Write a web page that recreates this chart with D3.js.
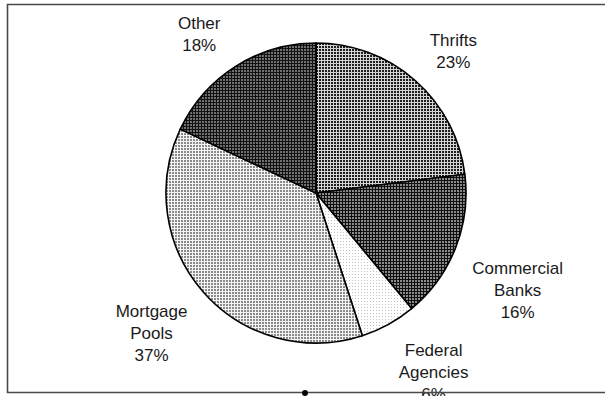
<!DOCTYPE html>
<html>
<head>
<meta charset="utf-8">
<script src="https://cdn.jsdelivr.net/npm/d3@7"></script>
<style>
  body { margin: 0; background: #fff; }
  svg { display: block; }
</style>
</head>
<body>
<script>
var width = 605;
var height = 396;

// holders of mortgage debt, share in %
var categories = ["Thrifts", "Commercial Banks", "Federal Agencies", "Mortgage Pools", "Other"];
var values = [23, 16, 6, 37, 18];
var labelLines = [["Thrifts"], ["Commercial", "Banks"], ["Federal", "Agencies"], ["Mortgage", "Pools"], ["Other"]];

// dither-like fills: background, dot colour, dot size
var fills = [
  { bg: "#d4d4d4", dot: "#1e1e1e", s: 2 },
  { bg: "#101010", dot: "#8a8a8a", s: 2 },
  { bg: "#ffffff", dot: "#c0c0c0", s: 1 },
  { bg: "#f4f4f4", dot: "#8a8a8a", s: 2 },
  { bg: "#121212", dot: "#707070", s: 2 }
];

// small hand nudges of each label, as Excel places them
var labelNudge = [[4, 8], [-6, 19], [15, -6], [-4, 0], [-10, 10]];

var cx = 316, cy = 193, radius = 150;
var labelRadius = 178;
var lineH = 22;

var svg = d3.select("body")
  .append("svg")
  .attr("width", width)
  .attr("height", height);

svg.append("rect")
  .attr("width", width)
  .attr("height", height)
  .attr("fill", "#fff");

var defs = svg.append("defs");
fills.forEach(function(f, i) {
  var p = defs.append("pattern")
    .attr("id", "fill" + i)
    .attr("patternUnits", "userSpaceOnUse")
    .attr("width", 3)
    .attr("height", 3);
  p.append("rect").attr("width", 3).attr("height", 3).attr("fill", f.bg);
  p.append("rect").attr("width", f.s).attr("height", f.s).attr("fill", f.dot)
    .attr("shape-rendering", "crispEdges");
});

var pie = d3.pie().sort(null).value(function(d) { return d; });
var arc = d3.arc().innerRadius(0).outerRadius(radius);
var arcs = pie(values);

var g = svg.append("g").attr("transform", "translate(" + cx + "," + cy + ")");

g.selectAll("path")
  .data(arcs)
  .enter()
  .append("path")
  .attr("d", arc)
  .attr("fill", function(d, i) { return "url(#fill" + i + ")"; })
  .attr("stroke", "#000")
  .attr("stroke-width", 1.6)
  .attr("stroke-linejoin", "round");

// labels outside the pie, pushed out by half their box
arcs.forEach(function(d, i) {
  var a = (d.startAngle + d.endAngle) / 2;
  var lines = labelLines[i].concat([values[i] + "%"]);
  var t = svg.append("text")
    .attr("font-family", "Arial, 'Liberation Sans', sans-serif")
    .attr("font-size", 17)
    .attr("fill", "#1a1a1a")
    .attr("text-anchor", "middle");
  var spans = lines.map(function(s) { return t.append("tspan").text(s); });
  var w = d3.max(spans, function(s) { return s.node().getComputedTextLength(); });
  var h = lines.length * lineH;
  var x = cx + Math.sin(a) * labelRadius + Math.sin(a) * w / 2 + labelNudge[i][0];
  var y = cy - Math.cos(a) * labelRadius - Math.cos(a) * h / 2 + labelNudge[i][1];
  spans.forEach(function(s, k) {
    s.attr("x", x).attr("y", y - h / 2 + 17 + k * lineH);
  });
});

// chart frame (right side runs off the page)
svg.append("path")
  .attr("d", "M" + (width + 5) + ",4.5H7.5V392.5H" + (width + 5))
  .attr("fill", "none")
  .attr("stroke", "#4a4a4a")
  .attr("stroke-width", 1.6);

svg.append("circle")
  .attr("cx", 305)
  .attr("cy", 393)
  .attr("r", 3)
  .attr("fill", "#000");
</script>
</body>
</html>
